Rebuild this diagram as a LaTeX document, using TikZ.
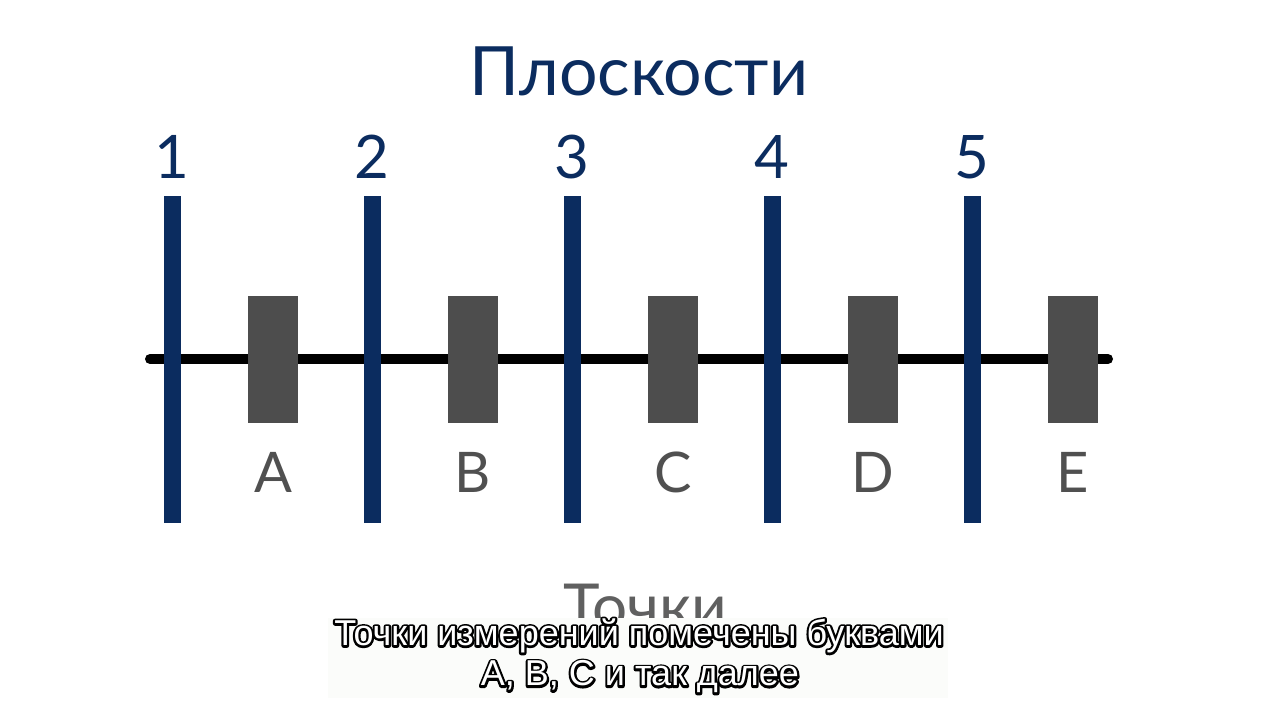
\documentclass[tikz,border=0pt]{standalone}
\usepackage{fontspec}
\setmainfont{Lato}
\newfontfamily\subfont{Liberation Sans}
\newcommand{\outlinetext}[1]{\rlap{\special{pdf:code q 0 0 0 RG 1 Tr 4.4 w 1 j 1 J}#1\special{pdf:code Q}}#1}
\definecolor{navy}{RGB}{11,44,95}
\definecolor{rectgray}{RGB}{77,77,77}
\definecolor{lettergray}{RGB}{80,80,80}
\definecolor{labgray}{RGB}{96,96,96}
\definecolor{subbg}{RGB}{251,252,250}
\tikzset{
  plane/.style={draw=navy, line width=17pt},
  num/.style={text=navy, font=\fontsize{60}{60}\selectfont, inner sep=0pt},
  pointbox/.style={fill=rectgray, minimum width=50pt, minimum height=127pt, inner sep=0pt, draw=none},
  letter/.style={text=lettergray, font=\fontsize{56}{56}\selectfont, inner sep=0pt},
  axis/.style={draw=black, line width=10pt, line cap=round},
  subtext/.style={text=white, font=\subfont\fontsize{36}{36}\selectfont, inner sep=0pt},
}
\begin{document}
\begin{tikzpicture}[x=1pt,y=-1pt]
\useasboundingbox[fill=white] (0,0) rectangle (1280,720);
% title
\node[text=navy, font=\fontsize{68}{68}\selectfont, inner sep=0pt] (title) at (639,71) {Плоскости};
% axis
\coordinate (axL) at (150,359);
\coordinate (axR) at (1108,359);
\draw[axis] (axL) -- (axR);
% planes
\foreach \i/\x in {1/172,2/372,3/572,4/772,5/972}{
  \coordinate (pt\i) at (\x,196);
  \coordinate (pb\i) at (\x,523);
  \draw[plane] (pt\i) -- (pb\i);
  \node[num] (n\i) at (\x,157) {\i};
}
% points
\foreach \L/\x in {A/273,B/473,C/673,D/873,E/1073}{
  \node[pointbox] (r\L) at (\x,359.5) {};
  \node[letter] (l\L) at (\x,472) {\L};
}
% lower label
\node[text=labgray, font=\fontsize{62}{62}\selectfont, inner sep=0pt, anchor=base] (pts) at (645,628) {Точки};
% subtitle box
\node[fill=subbg, minimum width=620pt, minimum height=80pt, inner sep=0pt] (subbox) at (638,658) {};
\node[subtext] (sub1) at (639,636) {\outlinetext{Точки измерений помечены буквами}};
\node[subtext] (sub2) at (640,677) {\outlinetext{А, В, С и так далее}};
\end{tikzpicture}
\end{document}
